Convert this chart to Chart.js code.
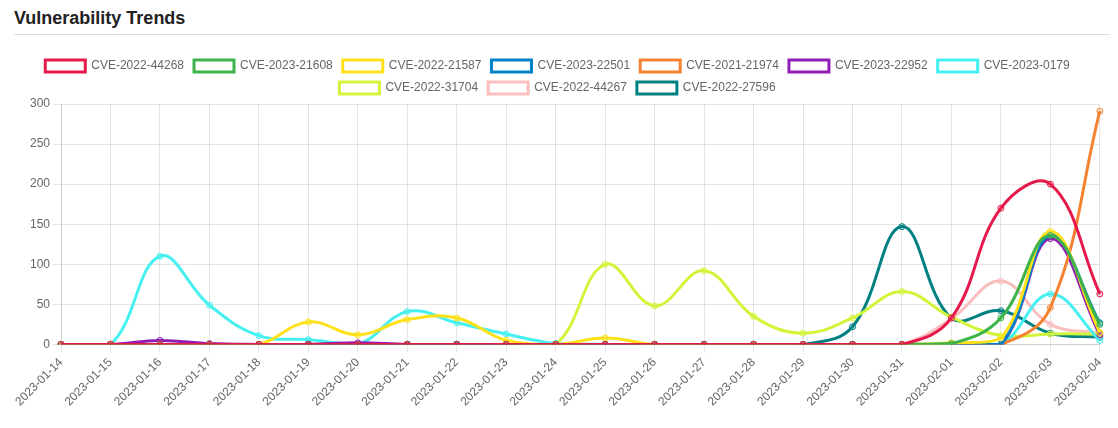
<!DOCTYPE html>
<html>
<head>
<meta charset="utf-8">
<script src="https://cdn.jsdelivr.net/npm/chart.js@4"></script>
<style>
html,body{margin:0;padding:0;background:#fff;}
#title{position:absolute;left:14px;top:8px;font:bold 18px "Liberation Sans",Arial,Helvetica,sans-serif;color:#222;}
#rule{position:absolute;left:14px;top:34px;width:1096px;height:0;border-top:1px solid #ddd;}
#wrap{position:absolute;left:2px;top:50px;width:1111px;height:362px;}
</style>
</head>
<body>
<div id="title">Vulnerability Trends</div>
<div id="rule"></div>
<div id="wrap"><canvas id="c"></canvas></div>
<script>
const dates = ["2023-01-14","2023-01-15","2023-01-16","2023-01-17","2023-01-18","2023-01-19","2023-01-20","2023-01-21","2023-01-22","2023-01-23","2023-01-24","2023-01-25","2023-01-26","2023-01-27","2023-01-28","2023-01-29","2023-01-30","2023-01-31","2023-02-01","2023-02-02","2023-02-03","2023-02-04"];
const seriesNames = ["CVE-2022-44268","CVE-2023-21608","CVE-2022-21587","CVE-2023-22501","CVE-2021-21974","CVE-2023-22952","CVE-2023-0179","CVE-2022-31704","CVE-2022-44267","CVE-2022-27596"];
const cve_2022_44268 = [0,0,0,0,0,0,0,0,0,0,0,0,0,0,0,0,0,0,33,170,200,63];
const cve_2023_21608 = [0,0,0,0,0,0,0,0,0,0,0,0,0,0,0,0,0,0,1,33,136,25];
const cve_2022_21587 = [0,0,0,0,0,28,12,31,33,5,0,8,0,0,0,0,0,0,2,8,141,15];
const cve_2023_22501 = [0,0,0,0,0,0,0,0,0,0,0,0,0,0,0,0,0,0,0,0,136,27];
const cve_2021_21974 = [0,0,0,0,0,0,0,0,0,0,0,0,0,0,0,0,0,0,0,0,46,291];
const cve_2023_22952 = [0,0,5,1,0,0,2,0,0,0,0,0,0,0,0,0,0,0,0,0,132,12];
const cve_2023_0179  = [0,0,110,49,11,6,0,41,27,13,1,0,0,0,0,0,0,0,0,0,63,5];
const cve_2022_31704 = [0,0,0,0,0,0,0,0,0,0,0,100,48,92,35,14,33,66,34,11,13,13];
const cve_2022_44267 = [0,0,0,0,0,0,0,0,0,0,0,0,0,0,0,0,0,0,32,79,25,14];
const cve_2022_27596 = [0,0,0,0,0,0,0,0,0,0,0,0,0,0,0,0,22,147,33,42,14,9];
const yTicks = [0,50,100,150,200,250,300];

const seriesValues = [cve_2022_44268,cve_2023_21608,cve_2022_21587,cve_2023_22501,cve_2021_21974,cve_2023_22952,cve_2023_0179,cve_2022_31704,cve_2022_44267,cve_2022_27596];
const colors = ["#e6194b","#3cb44b","#ffe119","#0082c8","#f58231","#911eb4","#46f0f0","#d2f53c","#fabebe","#008080"];

Chart.defaults.font.family = '"Liberation Sans", Arial, Helvetica, sans-serif';
Chart.defaults.font.size = 12;
Chart.defaults.color = '#666';

new Chart(document.getElementById('c'), {
  type: 'line',
  data: {
    labels: dates,
    datasets: seriesNames.map((n,i)=>({
      label: n,
      data: seriesValues[i],
      borderColor: colors[i],
      backgroundColor: 'rgba(255,255,255,0.6)',
      borderWidth: 3,
      tension: 0.4,
      fill: false,
      pointRadius: 3,
      pointBorderWidth: 1,
      pointBackgroundColor: colors[i] + '33'
    }))
  },
  options: {
    responsive: true,
    maintainAspectRatio: false,
    animation: false,
    layout: { padding: 0 },
    plugins: {
      legend: { position: 'top', labels: { boxWidth: 40, boxHeight: 12, color: '#666', font: { size: 12 } } },
      tooltip: { enabled: false }
    },
    scales: {
      x: {
        ticks: { minRotation: 45, maxRotation: 45, autoSkip: false, color: '#666' },
        grid: { color: 'rgba(0,0,0,0.1)' }
      },
      y: {
        min: 0, max: 300,
        afterBuildTicks: (s) => { s.ticks = yTicks.map(v=>({value:v})); },
        afterFit: (s) => { s.width = 59; },
        ticks: { color: '#666' },
        grid: { color: 'rgba(0,0,0,0.1)' }
      }
    }
  }
});
</script>
</body>
</html>
